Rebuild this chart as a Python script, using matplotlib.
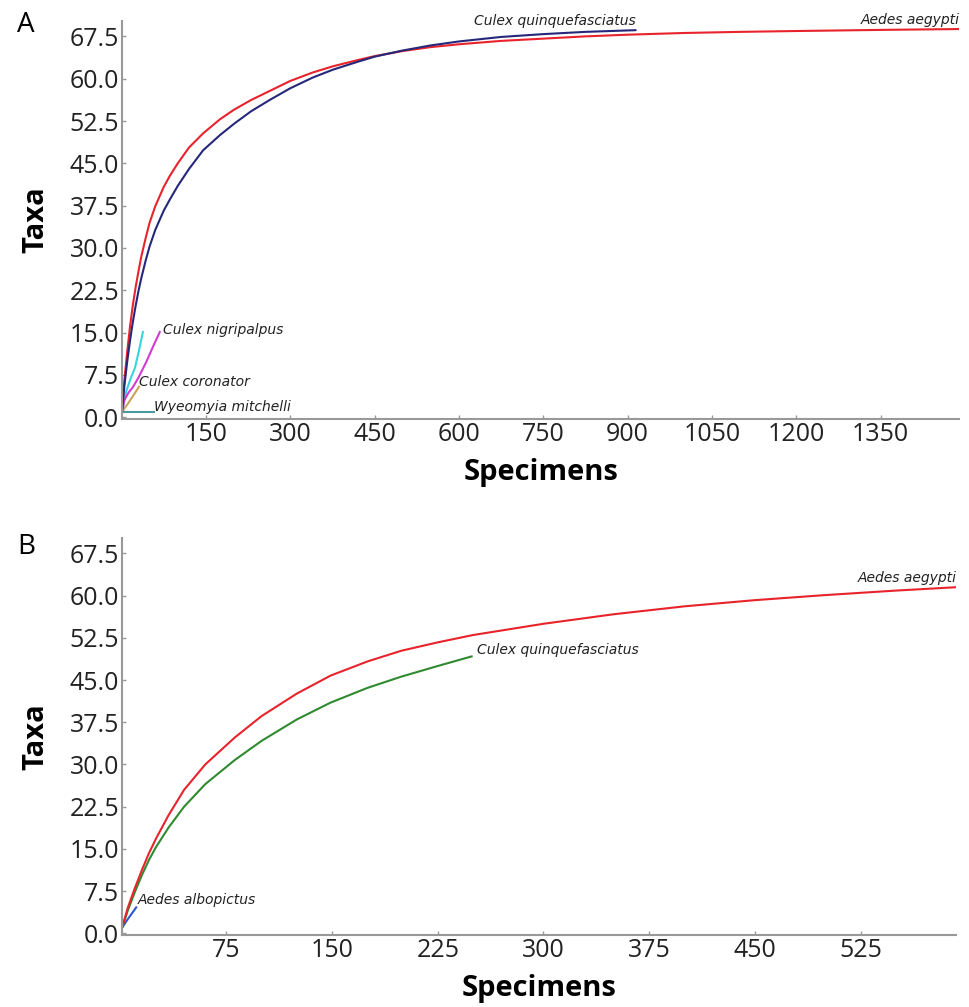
import numpy as np
import matplotlib
matplotlib.use("Agg")
import matplotlib.pyplot as plt

# --- panel A: rarefaction curves (specimens vs taxa)
a_aeg_x = [1, 5, 10, 15, 20, 25, 30, 35, 43, 50, 60, 75, 86, 100, 120, 145, 175, 200, 230, 263, 300, 340,
           376, 420, 450, 500, 550, 600, 675, 750, 825, 900, 1000, 1100, 1200, 1350, 1490]
a_aeg_y = [1, 6.5, 11.5, 16, 19.8, 23, 25.8, 28.4, 31.8, 34.5, 37.4, 40.8, 42.8, 45, 47.8, 50.3, 52.8, 54.5,
           56.2, 57.8, 59.6, 61.1, 62.2, 63.3, 64, 64.9, 65.6, 66.1, 66.7, 67.1, 67.5, 67.8, 68.1, 68.3, 68.45,
           68.65, 68.8]
a_qui_x = [1, 5, 10, 15, 20, 25, 30, 35, 43, 50, 60, 75, 86, 100, 120, 145, 175, 200, 230, 263, 300, 340,
           376, 420, 450, 500, 550, 600, 675, 750, 825, 914]
a_qui_y = [1, 5.5, 9.8, 13.5, 16.8, 19.7, 22.3, 24.6, 27.8, 30.3, 33.2, 36.6, 38.6, 41, 44, 47.3, 50, 52,
           54.2, 56.2, 58.3, 60.2, 61.6, 63, 63.9, 65, 65.9, 66.6, 67.4, 67.9, 68.3, 68.6]
a_cya_x = [1, 8, 16, 24, 31, 38]
a_cya_y = [1, 4.5, 6.8, 8.8, 11.8, 15.1]
a_nig_x = [1, 5, 12, 20, 30, 44, 56, 68]
a_nig_y = [1, 3, 4.3, 5.3, 7, 9.8, 12.5, 15.1]
a_cor_x = [1, 12, 22, 31]
a_cor_y = [1, 2.5, 4, 5.4]
a_wye_x = [1, 58]
a_wye_y = [1, 1]

# --- panel B
b_aeg_x = [1, 5, 10, 15, 20, 25, 34, 45, 60, 81, 100, 125, 149, 175, 199, 225, 250, 300, 350, 400, 450,
           500, 550, 593]
b_aeg_y = [1, 4.5, 8, 11.2, 14.2, 16.8, 21, 25.5, 30, 34.8, 38.6, 42.6, 45.8, 48.3, 50.2, 51.7, 53, 55,
           56.7, 58.1, 59.2, 60.1, 60.9, 61.5]
b_qui_x = [1, 5, 10, 15, 20, 25, 34, 45, 60, 81, 100, 125, 149, 175, 199, 225, 249]
b_qui_y = [1, 4, 7.3, 10.3, 13, 15.3, 18.8, 22.5, 26.5, 30.8, 34.2, 38, 41, 43.6, 45.6, 47.5, 49.2]
b_alb_x = [1, 5, 11]
b_alb_y = [1, 2.5, 4.6]

a_xticks = [150, 300, 450, 600, 750, 900, 1050, 1200, 1350]
b_xticks = [75, 150, 225, 300, 375, 450, 525]
yticks = [0, 7.5, 15, 22.5, 30, 37.5, 45, 52.5, 60, 67.5]

RED = "#e8232b"
NAVY = "#25287a"
GREEN = "#2f8a2f"

fig = plt.figure(figsize=(9.69, 10.07), dpi=100)
axA = fig.add_axes([0.126, 0.584, 0.864, 0.395])
axB = fig.add_axes([0.126, 0.0715, 0.861, 0.394])


def style(ax, xt, xlim):
    for s in ["top", "right"]:
        ax.spines[s].set_visible(False)
    for s in ["left", "bottom"]:
        ax.spines[s].set_color("#999999")
        ax.spines[s].set_linewidth(1.5)
    ax.set_xlim(*xlim)
    ax.set_ylim(-0.3, 70.2)
    ax.set_xticks(xt)
    ax.set_yticks(yticks)
    ax.set_yticklabels(["%.1f" % v for v in yticks])
    ax.tick_params(colors="#999999", length=3, width=1, direction="in", pad=2)
    for lab in ax.get_xticklabels() + ax.get_yticklabels():
        lab.set_fontfamily("Open Sans")
        lab.set_fontsize(18)
        lab.set_color("#222222")
    ax.set_xlabel("Specimens", fontfamily="Open Sans", fontweight="bold", fontsize=21, labelpad=8)
    ax.set_ylabel("Taxa", fontfamily="Open Sans", fontweight="bold", fontsize=21, labelpad=14)


lab_kw = dict(fontstyle="italic", fontsize=10, color="#222222", family="DejaVu Sans")

# panel A
axA.plot(a_cya_x, a_cya_y, color="#3ad3e0", lw=1.5)
axA.plot(a_nig_x, a_nig_y, color="#d43ad4", lw=1.5)
axA.plot(a_cor_x, a_cor_y, color="#c9a35a", lw=1.5)
axA.plot(a_wye_x, a_wye_y, color="#4a9a9e", lw=1.5)
axA.plot(a_aeg_x, a_aeg_y, color=RED, lw=1.5)
axA.plot(a_qui_x, a_qui_y, color=NAVY, lw=1.5)
style(axA, a_xticks, (1, 1490))
axA.text(a_qui_x[-1], a_qui_y[-1] + 0.4, "Culex quinquefasciatus", ha="right", va="bottom", **lab_kw)
axA.text(a_aeg_x[-1], a_aeg_y[-1] + 0.4, "Aedes aegypti", ha="right", va="bottom", **lab_kw)
axA.text(a_nig_x[-1] + 5, a_nig_y[-1] + 0.4, "Culex nigripalpus", ha="left", va="center", **lab_kw)
axA.text(a_cor_x[-1], a_cor_y[-1] + 0.8, "Culex coronator", ha="left", va="center", **lab_kw)
axA.text(a_wye_x[-1], a_wye_y[-1] + 0.8, "Wyeomyia mitchelli", ha="left", va="center", **lab_kw)

# panel B
axB.plot(b_alb_x, b_alb_y, color="#3355cc", lw=1.5)
axB.plot(b_qui_x, b_qui_y, color=GREEN, lw=1.5)
axB.plot(b_aeg_x, b_aeg_y, color=RED, lw=1.5)
style(axB, b_xticks, (1, 593))
axB.text(b_aeg_x[-1], b_aeg_y[-1] + 0.4, "Aedes aegypti", ha="right", va="bottom", **lab_kw)
axB.text(b_qui_x[-1] + 4, b_qui_y[-1] + 1.2, "Culex quinquefasciatus", ha="left", va="center", **lab_kw)
axB.text(b_alb_x[-1] + 1, b_alb_y[-1] + 1.3, "Aedes albopictus", ha="left", va="center", **lab_kw)

fig.text(0.018, 0.989, "A", fontsize=20, family="Open Sans", va="top")
fig.text(0.018, 0.471, "B", fontsize=20, family="Open Sans", va="top")

fig.savefig("out.png", dpi=100)
